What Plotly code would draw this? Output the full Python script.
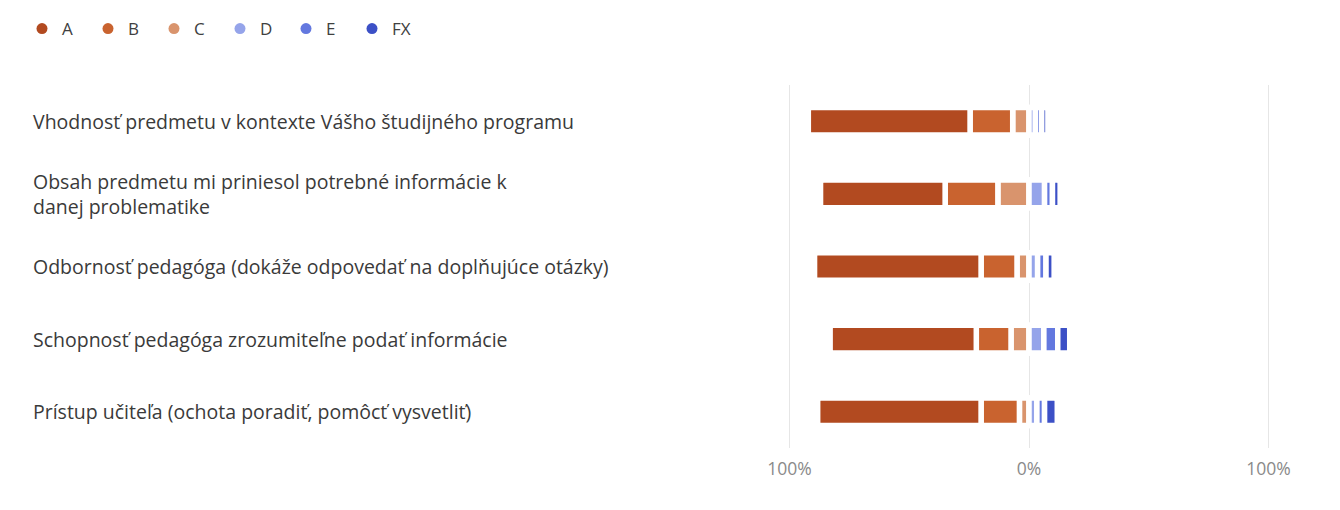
import plotly.graph_objects as go

# ---- data (percent of responses) ----
categories = [
    "Vhodnosť predmetu v kontexte Vášho študijného programu",
    "Obsah predmetu mi priniesol potrebné informácie k<br>danej problematike",
    "Odbornosť pedagóga (dokáže odpovedať na doplňujúce otázky)",
    "Schopnosť pedagóga zrozumiteľne podať informácie",
    "Prístup učiteľa (ochota poradiť, pomôcť vysvetliť)",
]
series_names = ["A", "B", "C", "D", "E", "FX"]
A = [67.5, 52.0, 69.5, 61.0, 68.2]
B = [17.8, 22.0, 15.0, 14.5, 16.0]
C = [6.8, 13.0, 5.0, 7.5, 4.0]
D = [2.7, 6.5, 3.6, 6.2, 3.3]
E = [2.6, 3.3, 3.5, 5.8, 3.2]
FX = [2.6, 3.2, 3.4, 5.0, 5.3]
tick_vals = [-100, 0, 100]
tick_text = ["100%", "0%", "100%"]

colors = {
    "A": "#b24a20",
    "B": "#c9632f",
    "C": "#d9946d",
    "D": "#95a4ea",
    "E": "#6378df",
    "FX": "#3c50c6",
}

# page has an 8px body margin; figure coordinates below are page - 8
W, H = 1324, 494
L_PX, R_PX = 778.6, 1263.4
T_PX, B_PX = 76.6, 440.4

fig = go.Figure()

values = {"A": A, "B": B, "C": C, "D": D, "E": E, "FX": FX}
for name in ["C", "B", "A"]:
    fig.add_trace(go.Bar(
        y=categories, x=[-v for v in values[name]], orientation="h",
        name=name, marker=dict(color=colors[name], line=dict(color="white", width=5.5)),
        showlegend=False, hoverinfo="skip", width=0.38,
    ))
for name in ["D", "E", "FX"]:
    fig.add_trace(go.Bar(
        y=categories, x=values[name], orientation="h",
        name=name, marker=dict(color=colors[name], line=dict(color="white", width=5.5)),
        showlegend=False, hoverinfo="skip", width=0.38,
    ))

for name in series_names:
    fig.add_trace(go.Scatter(
        x=[None], y=[None], mode="markers", name=name,
        marker=dict(color=colors[name], size=11, symbol="circle"),
        showlegend=True,
    ))

pw = R_PX - L_PX
annotations = []
for cat in categories:
    annotations.append(dict(
        x=(21 - L_PX) / pw, xref="paper", y=cat, yref="y",
        text=cat, showarrow=False, xanchor="left", yanchor="middle", align="left",
        font=dict(family="Open Sans", size=19.5, color="#3a3a3a"),
    ))

fig.update_layout(
    width=W, height=H,
    margin=dict(l=L_PX, r=W - R_PX, t=T_PX, b=H - B_PX, pad=0),
    paper_bgcolor="white", plot_bgcolor="white",
    barmode="relative", bargap=0.6, barcornerradius=3,
    font=dict(family="Open Sans", color="#404040"),
    showlegend=True,
    legend=dict(
        orientation="h", xref="container", yref="container",
        x=14 / W, y=1 - 3 / H, xanchor="left", yanchor="top",
        font=dict(size=17, color="#404040"),
        itemwidth=30, entrywidth=21, entrywidthmode="pixels",
        traceorder="normal",
    ),
    xaxis=dict(
        range=[-101, 101], tickvals=tick_vals, ticktext=tick_text,
        showgrid=True, gridcolor="#e6e6e6", gridwidth=1,
        zeroline=True, zerolinecolor="#e6e6e6", zerolinewidth=1,
        showline=False, ticks="outside", ticklen=5, tickcolor="rgba(0,0,0,0)",
        tickfont=dict(family="Open Sans", size=17.5, color="#8a8a8a"),
        fixedrange=True,
    ),
    yaxis=dict(
        categoryorder="array", categoryarray=categories, autorange="reversed",
        showticklabels=False, showgrid=False, zeroline=False, fixedrange=True,
    ),
    annotations=annotations,
)

fig.write_html("out.html")
